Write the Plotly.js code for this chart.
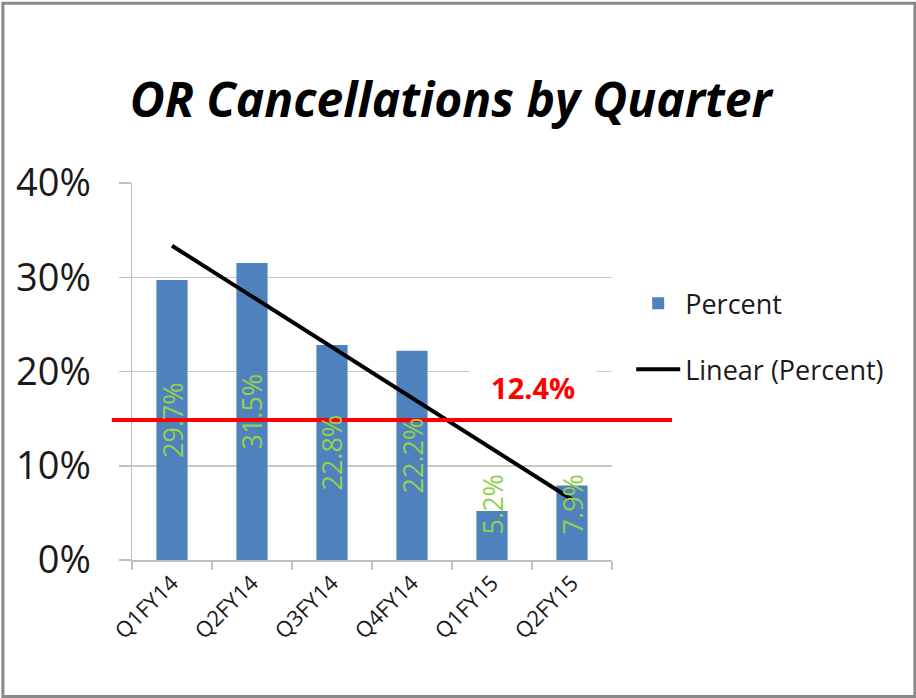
<!DOCTYPE html>
<html>
<head>
<meta charset="utf-8">
<script src="https://cdn.plot.ly/plotly-3.0.1.min.js"></script>
<style>html,body{margin:0;padding:0;background:#fff;}#chart{width:916px;height:698px;}</style>
</head>
<body>
<div id="chart"></div>
<script>
// ---- data ----
const quarters = ['Q1FY14', 'Q2FY14', 'Q3FY14', 'Q4FY14', 'Q1FY15', 'Q2FY15'];
const percentValues = [29.7, 31.5, 22.8, 22.2, 5.2, 7.9];
const percentLabels = ['29.7%', '31.5%', '22.8%', '22.2%', '5.2%', '7.9%'];
const yTickValues = [0, 10, 20, 30, 40];
const yTickLabels = ['0%', '10%', '20%', '30%', '40%'];
const targetValue = 14.85;      // where the red reference line is drawn
const targetLabel = '12.4%';    // text shown next to it
const minLabelCenter = 5.9;     // labels of short bars are lifted so they stay above the axis

// linear trendline (least squares) of the Percent series
const n = percentValues.length;
const xs = percentValues.map((_, i) => i + 1);
const mx = xs.reduce((a, b) => a + b, 0) / n;
const my = percentValues.reduce((a, b) => a + b, 0) / n;
let sxy = 0, sxx = 0;
for (let i = 0; i < n; i++) { sxy += (xs[i] - mx) * (percentValues[i] - my); sxx += (xs[i] - mx) ** 2; }
const slope = sxy / sxx, intercept = my - slope * mx;
const trendValues = xs.map(x => intercept + slope * x);
const labelCenters = percentValues.map(v => Math.max(v / 2, minLabelCenter));

const FONT = '"Open Sans", "Liberation Sans", sans-serif';

const traces = [
  {
    type: 'bar', name: 'Percent', x: quarters, y: percentValues,
    marker: {color: '#4F81BD'},
    legendgroup: 'a', hoverinfo: 'x+y'
  },
  {
    type: 'scatter', mode: 'lines', name: 'Linear (Percent)', x: quarters, y: trendValues,
    line: {color: '#000000', width: 4},
    legendgroup: 'b'
  }
];

const layout = {
  width: 916, height: 698,
  paper_bgcolor: '#ffffff', plot_bgcolor: '#ffffff',
  margin: {l: 132, r: 304, t: 183, b: 138},
  font: {family: FONT, color: '#000'},
  title: {
    text: '<b><i>OR Cancellations by Quarter</i></b>',
    font: {family: FONT, size: 48, color: '#000'},
    x: 0.492, xref: 'container', xanchor: 'center',
    y: 0.857, yref: 'container', yanchor: 'middle'
  },
  bargap: 0.61,
  xaxis: {
    type: 'category', tickson: 'boundaries', ticks: 'outside', ticklen: 8,
    tickcolor: '#BFBFBF', tickwidth: 1.5,
    showline: true, linecolor: '#BFBFBF', linewidth: 1.5,
    showgrid: false, tickangle: -45,
    tickfont: {family: FONT, size: 22, color: '#1a1a1a'}
  },
  yaxis: {
    range: [0, 40], tickvals: yTickValues, ticktext: yTickLabels,
    showgrid: true, gridcolor: '#C8C8C8', gridwidth: 1.5,
    showline: true, linecolor: '#BFBFBF', linewidth: 1.5,
    ticks: 'outside', ticklen: 12, tickcolor: '#BFBFBF', tickwidth: 1.5,
    ticklabelstandoff: 20,
    tickfont: {family: FONT, size: 38, color: '#1a1a1a'},
    zeroline: false
  },
  showlegend: true,
  legend: {
    x: 1.04, xanchor: 'left', y: 0.745, yanchor: 'top',
    font: {family: FONT, size: 27, color: '#1a1a1a'},
    traceorder: 'grouped', tracegroupgap: 28,
    bgcolor: 'rgba(0,0,0,0)', itemwidth: 44
  },
  shapes: [
    {type: 'line', xref: 'paper', yref: 'y', x0: -0.042, x1: 1.125, y0: targetValue, y1: targetValue,
     line: {color: '#FF0000', width: 4}, layer: 'above'},
    {type: 'rect', xref: 'paper', yref: 'paper', x0: -0.269, x1: 1.631, y0: -0.362, y1: 1.477,
     line: {color: '#8a8a8a', width: 3}, layer: 'above'}
  ],
  annotations: [
    {text: '&nbsp;&nbsp;<b>' + targetLabel + '</b>&nbsp;&nbsp;', xref: 'paper', yref: 'y', x: 0.835, y: 18.35,
     xanchor: 'center', yanchor: 'middle', showarrow: false,
     font: {family: FONT, size: 29, color: '#FF0000'},
     bgcolor: '#ffffff', borderpad: 6}
  ].concat(quarters.map((q, i) => ({
     text: percentLabels[i], x: q, y: labelCenters[i], xref: 'x', yref: 'y',
     textangle: -90, showarrow: false, xanchor: 'center', yanchor: 'middle',
     font: {family: FONT, size: 27, color: '#92D050'}
  })))
};

Plotly.newPlot('chart', traces, layout, {displayModeBar: false, staticPlot: true});
</script>
</body>
</html>
